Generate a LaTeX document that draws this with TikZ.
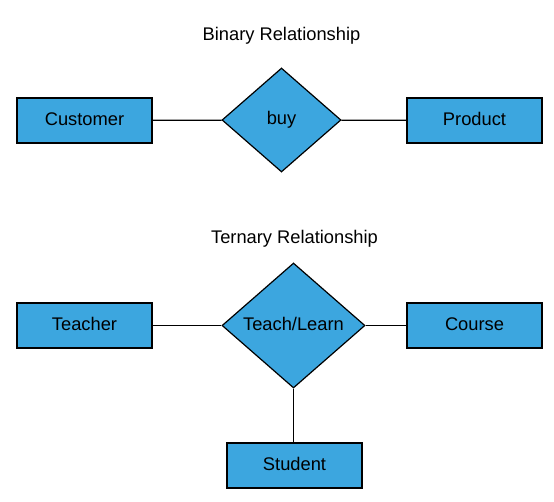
\documentclass[tikz,border=0pt]{standalone}
\usepackage{fontspec}
\setmainfont{Liberation Sans}
\usetikzlibrary{positioning,shapes.geometric}
\definecolor{erblue}{HTML}{3CA6DF}
\tikzset{
  label text/.style={font=\fontsize{18.3}{21}\selectfont,text height=13pt,text depth=4pt},
  entity/.style={label text,draw=black,fill=erblue,line width=1.2pt,minimum width=135pt,minimum height=45pt,inner sep=0pt},
  relation/.style={label text,diamond,draw=black,fill=erblue,line width=1.2pt,inner sep=0pt},
  title/.style={label text},
  link/.style={line width=1.2pt}
}
\begin{document}
\begin{tikzpicture}[x=1pt,y=-1pt]
  \useasboundingbox (0,0) rectangle (554,501);
  % binary
  \node[title] (bintitle) at (281.5,36) {Binary Relationship};
  \node[entity] (customer) at (84.5,120.5) {Customer};
  \node[relation,minimum width=119pt,minimum height=104pt] (buy) at (281.5,120) {buy};
  \node[entity] (product) at (474.5,120.5) {Product};
  \draw[link] (customer) -- (buy);
  \draw[link] (buy) -- (product);
  % ternary
  \node[title] (tertitle) at (294.5,239) {Ternary Relationship};
  \node[entity] (teacher) at (84.5,325.5) {Teacher};
  \node[relation,minimum width=143pt,minimum height=125pt] (teach) at (293.5,325.5) {Teach/Learn};
  \node[entity] (course) at (474.5,325.5) {Course};
  \node[entity] (student) at (294.5,465.5) {Student};
  \draw[link] (teacher) -- (teach);
  \draw[link] (teach) -- (course);
  \draw[link] (teach) -- (teach|-student.north);
\end{tikzpicture}
\end{document}
